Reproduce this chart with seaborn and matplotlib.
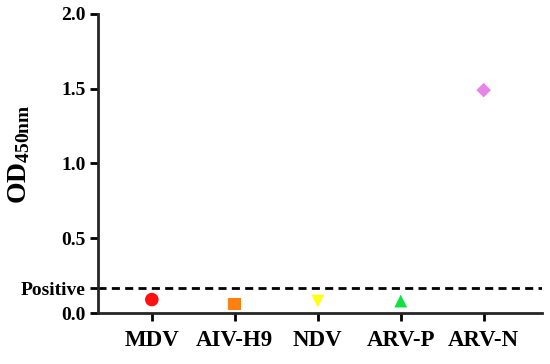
import pandas as pd
import matplotlib
matplotlib.use("Agg")
import matplotlib.pyplot as plt
import seaborn as sns

# ==========================
# DATA
# ==========================

viruses = ["MDV", "AIV-H9", "NDV", "ARV-P", "ARV-N"]
od_values = [0.09, 0.06, 0.08, 0.08, 1.49]
positive_cutoff = 0.167

colors = ["#FF1010", "#FF8010", "#FFFF10", "#10E040", "#E884E8"]
markers = ["o", "s", "v", "^", "D"]
marker_sizes = [95, 85, 85, 85, 55]

data = pd.DataFrame({"virus": viruses, "od": od_values})
data["x"] = range(len(viruses))

# ==========================
# STYLE
# ==========================

sns.set_style("ticks")
plt.rcParams["font.family"] = ["Liberation Serif", "DejaVu Serif"]
plt.rcParams["font.weight"] = "bold"
plt.rcParams["mathtext.fontset"] = "custom"
plt.rcParams["mathtext.rm"] = "Liberation Serif:bold"
plt.rcParams["mathtext.default"] = "rm"
plt.rcParams["text.color"] = "black"
plt.rcParams["axes.labelcolor"] = "black"
plt.rcParams["xtick.color"] = "black"
plt.rcParams["ytick.color"] = "black"

fig = plt.figure(figsize=(5.5, 3.64), dpi=100)
ax = fig.add_axes([0.178, 0.140, 0.807, 0.822])

sns.scatterplot(
    data=data, x="x", y="od", hue="virus", style="virus", size="virus",
    palette=dict(zip(viruses, colors)),
    markers=dict(zip(viruses, markers)),
    sizes=dict(zip(viruses, marker_sizes)),
    edgecolor="none", legend=False, ax=ax, zorder=3
)

ax.axhline(positive_cutoff, color="black", lw=2.0, dashes=(2.9, 1.9), zorder=2)

# ==========================
# AXES
# ==========================

ax.set_xlim(-0.65, 4.7)
ax.set_ylim(0, 2.0)
ax.set_xticks(range(len(viruses)))
ax.set_xticklabels(viruses, fontsize=16.5, fontweight="bold")
ax.set_yticks([0.0, positive_cutoff, 0.5, 1.0, 1.5, 2.0])
ax.set_yticklabels(["0.0", "Positive", "0.5", "1.0", "1.5", "2.0"],
                   fontsize=14, fontweight="bold")
ax.set_xlabel("")
ax.set_ylabel(r"OD$_{450nm}$", fontsize=20, fontweight="bold")
ax.yaxis.set_label_coords(-0.148, 0.53)

sns.despine(ax=ax)
for side in ["left", "bottom"]:
    ax.spines[side].set_linewidth(2.0)
ax.tick_params(axis="both", width=2.0, length=6, direction="out", pad=3)
ax.tick_params(axis="x", pad=6)

fig.savefig("out.png", dpi=100)
plt.close()
